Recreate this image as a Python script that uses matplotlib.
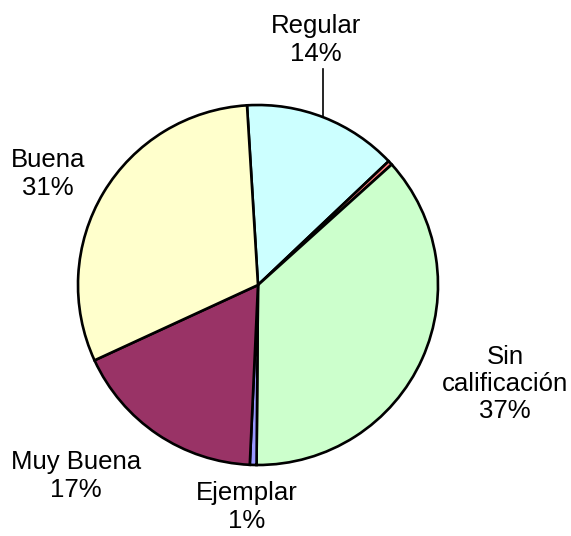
import numpy as np
import matplotlib
matplotlib.use("Agg")
import matplotlib.pyplot as plt

plt.rcParams['font.family'] = ['Liberation Sans', 'DejaVu Sans']

# datos (porcentaje por calificacion)
categorias = ['Regular', '', 'Sin\ncalificación', 'Ejemplar', 'Muy Buena', 'Buena']
valores = [13.9, 0.4, 36.8, 0.6, 17.4, 30.9]
colores = ['#CCFFFF', '#FF8080', '#CCFFCC', '#9999FF', '#993366', '#FFFFCC']

# posiciones de etiquetas (pixeles de la figura)
pos_etiq = [(316, 40), None, (505, 384), (247, 507), (76, 476), (48, 174)]

W, H = 571, 536
cx, cy, r = 258, 285, 180

fig = plt.figure(figsize=(W / 100, H / 100), dpi=100)
ax = fig.add_axes([(cx - r) / W, (H - cy - r) / H, 2 * r / W, 2 * r / H])
ax.axis('off')

ax.pie(valores, colors=colores, startangle=93.5, counterclock=False, radius=1,
       wedgeprops=dict(edgecolor='black', linewidth=1.9))
ax.set_xlim(-1, 1)
ax.set_ylim(-1, 1)

total = sum(valores)
for cat, v, p in zip(categorias, valores, pos_etiq):
    if p is None:
        continue
    x = (p[0] - cx) / r
    y = (cy - p[1]) / r
    txt = "{}\n{:.0f}%".format(cat, v / total * 100)
    ax.text(x, y, txt, ha='center', va='center', multialignment='center',
            fontsize=18.5, linespacing=1.17, clip_on=False)

# linea guia de Regular
lx = (323 - cx) / r
ax.plot([lx, lx], [(cy - 69) / r, np.sqrt(1 - lx ** 2)], color='black', lw=1.2,
        clip_on=False)

fig.savefig('out.png', dpi=100)
